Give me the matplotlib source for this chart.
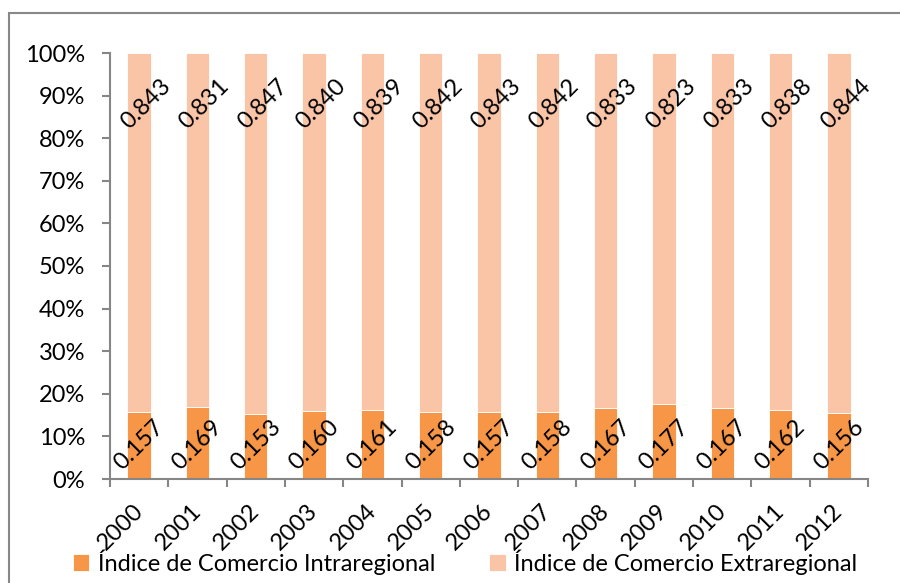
import matplotlib
matplotlib.use("Agg")
import matplotlib.pyplot as plt
import matplotlib.transforms as mtransforms
from matplotlib.patches import Rectangle
import numpy as np

years = ["2000", "2001", "2002", "2003", "2004", "2005", "2006",
         "2007", "2008", "2009", "2010", "2011", "2012"]
intra = [0.157, 0.169, 0.153, 0.160, 0.161, 0.158, 0.157,
         0.158, 0.167, 0.177, 0.167, 0.162, 0.156]
extra = [0.843, 0.831, 0.847, 0.840, 0.839, 0.842, 0.843,
         0.842, 0.833, 0.823, 0.833, 0.838, 0.844]
series_names = ["Índice de Comercio Intraregional", "Índice de Comercio Extraregional"]

plt.rcParams['font.family'] = ['Lato', 'DejaVu Sans']
FS = 17

fig = plt.figure(figsize=(9, 5.83), dpi=100)
ax = fig.add_axes([110/900, 1-479/583, (868-110)/900, (479-53)/583])

x = np.arange(len(years))
c_dark = "#F79646"
c_light = "#FAC4A7"
ax.bar(x, intra, width=0.4, color=c_dark, edgecolor="white", linewidth=0.6, label=series_names[0])
ax.bar(x, extra, bottom=intra, width=0.4, color=c_light, edgecolor="white", linewidth=0.6, label=series_names[1])

ax.set_xlim(-0.5, len(years) - 0.5)
ax.set_ylim(0, 1)
ax.set_yticks(np.arange(0, 1.01, 0.1))
ax.set_yticklabels([f"{int(round(v*100))}%" for v in np.arange(0, 1.01, 0.1)], fontsize=FS)

ax.set_xticks(x)
ax.set_xticklabels(years, fontsize=FS, rotation=45, ha="right", va="top")
ax.set_xticks(np.arange(-0.5, len(years), 1), minor=True)
ax.tick_params(axis="x", which="major", length=0, pad=15)
ax.tick_params(axis="x", which="minor", length=6, width=1.5, color="#868686")
ax.tick_params(axis="y", length=6, width=1.5, color="#868686", pad=12)
offset = mtransforms.ScaledTranslation(8/100, 0, fig.dpi_scale_trans)
for lbl in ax.get_xticklabels():
    lbl.set_transform(lbl.get_transform() + offset)

for s in ["top", "right"]:
    ax.spines[s].set_visible(False)
for s in ["left", "bottom"]:
    ax.spines[s].set_color("#868686")
    ax.spines[s].set_linewidth(1.5)

for xi, a, b in zip(x, intra, extra):
    ax.annotate(f"{a:.3f}", (xi, 0.08), xytext=(0, 0), textcoords="offset points",
                rotation=45, ha="center", va="center", fontsize=FS, color="black")
    ax.annotate(f"{b:.3f}", (xi, 0.88), xytext=(5, 0), textcoords="offset points",
                rotation=45, ha="center", va="center", fontsize=FS, color="black")

fig.legend(loc="center", bbox_to_anchor=(465/900, 1-562/583), ncol=2, frameon=False,
           fontsize=FS, handlelength=0.7, handleheight=0.7, handletextpad=0.35,
           columnspacing=2.3, borderpad=0, borderaxespad=0)

fig.patches.append(Rectangle((9/900, -0.1), 1.2, (1-13/583)+0.1, transform=fig.transFigure,
                             fill=False, edgecolor="#888888", linewidth=1.5))

fig.savefig("out.png", dpi=100)
